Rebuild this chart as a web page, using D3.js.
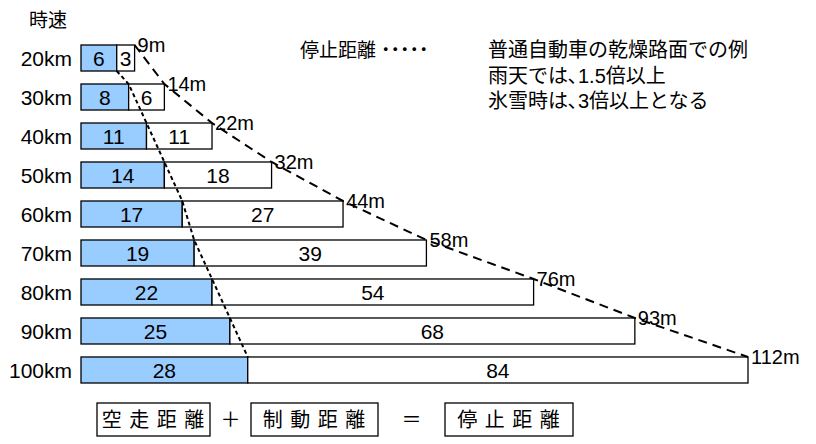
<!DOCTYPE html>
<html>
<head>
<meta charset="utf-8">
<script src="https://cdn.jsdelivr.net/npm/d3@7"></script>
<style>
  body { margin: 0; background: #fff; }
  svg { display: block; font-family: "Liberation Sans", "Noto Sans CJK JP", sans-serif; }
</style>
</head>
<body>
<svg id="chart" width="816" height="444"></svg>
<script>
// speed categories and the two parts of the stopping distance (m)
var speeds = ["20km", "30km", "40km", "50km", "60km", "70km", "80km", "90km", "100km"],
    reaction = [6, 8, 11, 14, 17, 19, 22, 25, 28],
    braking = [3, 6, 11, 18, 27, 39, 54, 68, 84],
    legendLines = ["普通自動車の乾燥路面での例", "雨天では､1.5倍以上", "氷雪時は､3倍以上となる"],
    formula = ["空 走 距 離", "＋", "制 動 距 離", "＝", "停 止 距 離"];

var svg = d3.select("#chart"),
    blue = "#99ccff",
    data = speeds.map(function (s, i) {
        return { speed: s, react: reaction[i], brake: braking[i], total: reaction[i] + braking[i] };
    });

var x = d3.scaleLinear().domain([0, 112]).range([81, 748]),
    y = d3.scaleBand().domain(speeds).range([45, 383]).paddingInner(0.333);

svg.append("text")
    .attr("x", 29).attr("y", 27)
    .style("font-size", "19px")
    .text("時速");

var row = svg.selectAll("g.row")
    .data(data)
    .enter()
    .append("g")
    .attr("class", "row")
    .attr("transform", function (d) { return "translate(0," + y(d.speed) + ")"; });

row.append("rect")
    .attr("x", x(0))
    .attr("width", function (d) { return x(d.react) - x(0); })
    .attr("height", y.bandwidth())
    .attr("fill", blue)
    .attr("stroke", "#000").attr("stroke-width", 1.3);

row.append("rect")
    .attr("x", function (d) { return x(d.react); })
    .attr("width", function (d) { return x(d.total) - x(d.react); })
    .attr("height", y.bandwidth())
    .attr("fill", "#fff")
    .attr("stroke", "#000").attr("stroke-width", 1.3);

// km labels
row.append("text")
    .attr("x", 72)
    .attr("y", y.bandwidth() / 2)
    .attr("dy", ".36em") //vertical align middle
    .attr("text-anchor", "end")
    .style("font-size", "21px")
    .text(function (d) { return d.speed; });

row.append("text")
    .attr("x", function (d) { return (x(0) + x(d.react)) / 2; })
    .attr("y", y.bandwidth() / 2)
    .attr("dy", ".36em")
    .attr("text-anchor", "middle")
    .style("font-size", "21px")
    .text(function (d) { return d.react; });

row.append("text")
    .attr("x", function (d) { return (x(d.react) + x(d.total)) / 2; })
    .attr("y", y.bandwidth() / 2)
    .attr("dy", ".36em")
    .attr("text-anchor", "middle")
    .style("font-size", "21px")
    .text(function (d) { return d.brake; });

// dotted line along the reaction / braking boundary
var dotted = data.map(function (d, i) {
    return [x(d.react), i === 0 ? y(d.speed) + y.bandwidth() : y(d.speed)];
});
svg.append("path")
    .attr("d", d3.line()(dotted))
    .attr("fill", "none")
    .attr("stroke", "#000").attr("stroke-width", 2)
    .attr("stroke-dasharray", "4,3");

// dashed line through the stopping distance ends
svg.append("path")
    .attr("d", d3.line()(data.map(function (d) { return [x(d.total), y(d.speed)]; })))
    .attr("fill", "none")
    .attr("stroke", "#000").attr("stroke-width", 2)
    .attr("stroke-dasharray", "9,6");

svg.selectAll("text.total")
    .data(data)
    .enter()
    .append("text")
    .attr("class", "total")
    .attr("x", function (d) { return x(d.total) + 3; })
    .attr("y", function (d) { return y(d.speed); })
    .attr("dy", ".36em")
    .style("font-size", "20px")
    .text(function (d) { return d.total + "m"; });

// legend
svg.append("text")
    .attr("x", 300).attr("y", 57)
    .style("font-size", "19px")
    .text("停止距離");
svg.append("text")
    .attr("x", 381).attr("y", 57)
    .style("font-size", "19px")
    .style("font-weight", "bold")
    .text("･････");
svg.selectAll("text.note")
    .data(legendLines)
    .enter()
    .append("text")
    .attr("class", "note")
    .attr("x", 488)
    .attr("y", function (d, i) { return 57 + i * 25.5; })
    .style("font-size", "20px")
    .text(function (d) { return d; });

// formula boxes
var boxes = [
    { t: formula[0], x0: 97, x1: 210, box: true },
    { t: formula[1], x0: 210, x1: 251, box: false },
    { t: formula[2], x0: 251, x1: 378, box: true },
    { t: formula[3], x0: 378, x1: 445, box: false },
    { t: formula[4], x0: 445, x1: 573, box: true }
];
var fb = svg.selectAll("g.formula")
    .data(boxes)
    .enter()
    .append("g")
    .attr("class", "formula");
fb.filter(function (d) { return d.box; })
    .append("rect")
    .attr("x", function (d) { return d.x0; })
    .attr("y", 403)
    .attr("width", function (d) { return d.x1 - d.x0; })
    .attr("height", 33)
    .attr("fill", "none")
    .attr("stroke", "#000").attr("stroke-width", 1.3);
fb.append("text")
    .attr("x", function (d) { return (d.x0 + d.x1) / 2; })
    .attr("y", 420)
    .attr("dy", ".36em")
    .attr("text-anchor", "middle")
    .style("font-size", "20px")
    .style("letter-spacing", function (d) { return d.box ? "1px" : "0px"; })
    .text(function (d) { return d.t; });
</script>
</body>
</html>
